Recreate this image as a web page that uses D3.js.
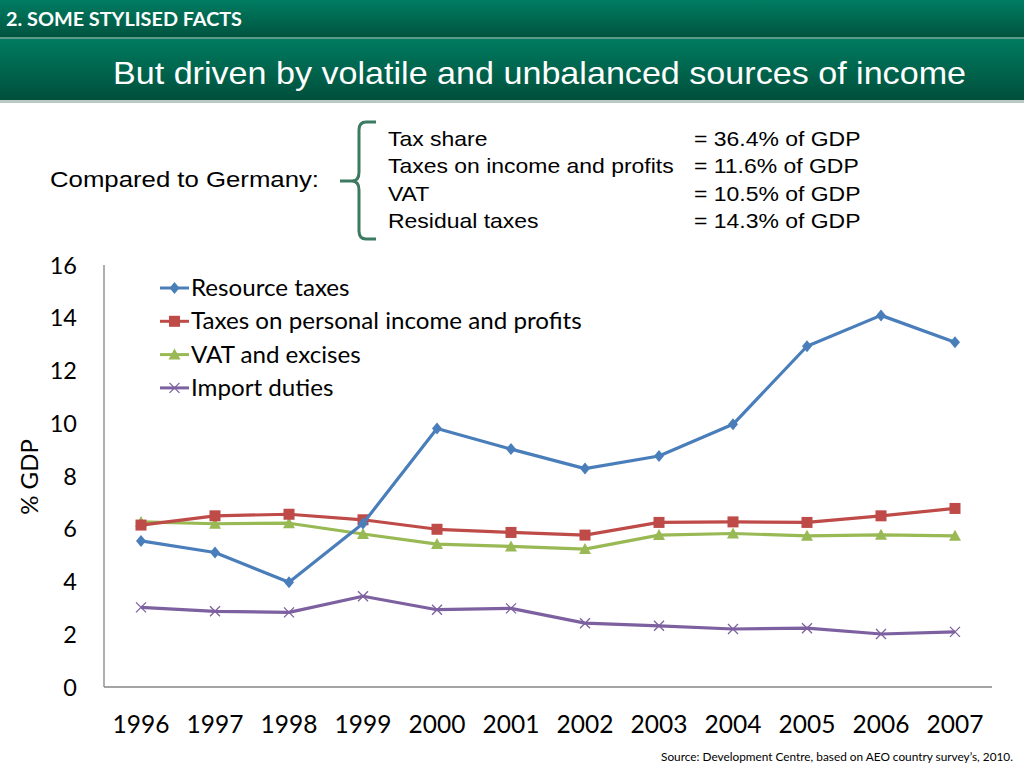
<!DOCTYPE html>
<html>
<head>
<meta charset="utf-8">
<script src="https://cdn.jsdelivr.net/npm/d3@7"></script>
<style>
html,body{margin:0;padding:0;background:#fff;}
svg{display:block;}
</style>
</head>
<body>
<svg id="chart" width="1024" height="768"></svg>
<script>
const years = ["1996","1997","1998","1999","2000","2001","2002","2003","2004","2005","2006","2007"];
const resourceTaxes = [5.54,5.10,3.97,6.20,9.80,9.02,8.28,8.76,9.96,12.92,14.09,13.07];
const personalIncome = [6.14,6.49,6.55,6.34,5.98,5.86,5.76,6.24,6.26,6.24,6.49,6.77];
const vatExcises = [6.26,6.19,6.21,5.80,5.42,5.33,5.23,5.76,5.82,5.73,5.77,5.73];
const importDuties = [3.02,2.87,2.83,3.44,2.93,2.98,2.42,2.32,2.20,2.23,2.01,2.09];
const seriesNames = ["Resource taxes","Taxes on personal income and profits","VAT and excises","Import duties"];
const yTicks = [0,2,4,6,8,10,12,14,16];
const germanyLabels = ["Tax share","Taxes on income and profits","VAT","Residual taxes"];
const germanyValues = ["= 36.4% of GDP","= 11.6% of GDP","= 10.5% of GDP","= 14.3% of GDP"];

(function(){
const svg = d3.select("#chart");
const defs = svg.append("defs");
const g1 = defs.append("linearGradient").attr("id","bar1").attr("x1",0).attr("y1",0).attr("x2",0).attr("y2",1);
g1.append("stop").attr("offset","0%").attr("stop-color","#007d62");
g1.append("stop").attr("offset","100%").attr("stop-color","#00543f");
const g2 = defs.append("linearGradient").attr("id","bar2").attr("x1",0).attr("y1",0).attr("x2",0).attr("y2",1);
g2.append("stop").attr("offset","0%").attr("stop-color","#007b60");
g2.append("stop").attr("offset","100%").attr("stop-color","#004f3b");

const arial = "'Liberation Sans', Arial, sans-serif";
const cal = "Lato, 'Open Sans', sans-serif";
const SX = 1.12; // horizontal stretch of the slide text

function stretched(xp, yp, font, size, txt, fill, weight){
  return svg.append("text").attr("transform",`translate(${xp},${yp}) scale(${SX},1)`)
    .style("font-family",font).style("font-size",size+"px").style("font-weight",weight||"normal")
    .attr("fill",fill||"#000").text(txt);
}

// header
svg.append("rect").attr("x",0).attr("y",0).attr("width",1024).attr("height",37).attr("fill","url(#bar1)");
svg.append("rect").attr("x",0).attr("y",37).attr("width",1024).attr("height",2).attr("fill","#5e9a88");
svg.append("rect").attr("x",0).attr("y",39).attr("width",1024).attr("height",61).attr("fill","url(#bar2)");
svg.append("rect").attr("x",0).attr("y",100).attr("width",1024).attr("height",3).attr("fill","#b9c9c3");
svg.append("text").attr("x",6).attr("y",26).attr("fill","#fff")
  .style("font-family",cal).style("font-weight","bold").style("font-size","19px")
  .attr("textLength",236).attr("lengthAdjust","spacingAndGlyphs")
  .text("2. SOME STYLISED FACTS");
svg.append("text").attr("x",113).attr("y",84).attr("fill","#fff")
  .style("font-family",arial).style("font-size","32px")
  .attr("textLength",853).attr("lengthAdjust","spacingAndGlyphs")
  .text("But driven by volatile and unbalanced sources of income");

// comparison text
stretched(50,187,arial,23,"Compared to Germany:");
svg.append("path")
  .attr("d","M376,122 L366,122 Q359,122 359,130 L359,172 Q359,181 352,181 L340,181 M352,181 Q359,181 359,190 L359,231 Q359,239 366,239 L376,239")
  .attr("fill","none").attr("stroke","#3c7a62").attr("stroke-width",3);
germanyLabels.forEach((t,i)=>{
  stretched(388,146+i*27.3,arial,20.5,t);
  stretched(694,146+i*27.3,arial,20.5,germanyValues[i]);
});

// chart
const pLeft = 104, pRight = 992, pTop = 265, pBottom = 687;
const x = d3.scaleBand().domain(years).range([pLeft,pRight]);
const y = d3.scaleLinear().domain([0,16]).range([pBottom,pTop]);

svg.append("line").attr("x1",pLeft).attr("x2",pLeft).attr("y1",pTop).attr("y2",pBottom).attr("stroke","#868686").attr("stroke-width",1.3);
svg.append("line").attr("x1",pLeft).attr("x2",pRight).attr("y1",pBottom).attr("y2",pBottom).attr("stroke","#868686").attr("stroke-width",1.3);

const yAxis = d3.axisLeft(y).tickValues(yTicks).tickSize(0).tickPadding(0);
const ya = svg.append("g").attr("transform",`translate(${pLeft},0)`).call(yAxis);
ya.select(".domain").remove();
ya.selectAll("text").attr("x",-27).attr("text-anchor","end").style("font-family",cal).style("font-size","23.5px").attr("fill","#000").attr("dy","0.35em");

const xAxis = d3.axisBottom(x).tickSize(0).tickPadding(0);
const xa = svg.append("g").attr("transform",`translate(0,${pBottom})`).call(xAxis);
xa.select(".domain").remove();
xa.selectAll("text").attr("y",37).attr("dy","0.35em").style("font-family",cal).style("font-size","24.5px").attr("fill","#000");

svg.append("text").attr("transform","translate(38,477) rotate(-90)").attr("text-anchor","middle")
  .style("font-family",cal).style("font-size","24px").attr("fill","#000").text("% GDP");

const series = [
  {name:seriesNames[0], values:resourceTaxes, color:"#4a7ebb", marker:"diamond"},
  {name:seriesNames[1], values:personalIncome, color:"#be4b48", marker:"square"},
  {name:seriesNames[2], values:vatExcises, color:"#98b954", marker:"triangle"},
  {name:seriesNames[3], values:importDuties, color:"#7d60a0", marker:"x"}
];
const line = d3.line().x((d,i)=>x(years[i])+x.bandwidth()/2).y(d=>y(d));

function drawMarker(sel, type, color, cx, cy){
  if(type==="diamond"){
    sel.append("path").attr("d",`M${cx},${cy-6} L${cx+5},${cy} L${cx},${cy+6} L${cx-5},${cy} Z`).attr("fill",color);
  } else if(type==="square"){
    sel.append("rect").attr("x",cx-5.5).attr("y",cy-5.5).attr("width",11).attr("height",11).attr("fill",color);
  } else if(type==="triangle"){
    sel.append("path").attr("d",`M${cx},${cy-6} L${cx+6},${cy+5} L${cx-6},${cy+5} Z`).attr("fill",color);
  } else {
    sel.append("path").attr("d",`M${cx-5},${cy-5} L${cx+5},${cy+5} M${cx-5},${cy+5} L${cx+5},${cy-5}`).attr("stroke",color).attr("stroke-width",1.3).attr("fill","none");
  }
}

[...series].reverse().forEach(s=>{
  const g = svg.append("g");
  g.append("path").datum(s.values).attr("d",line).attr("fill","none").attr("stroke",s.color).attr("stroke-width",3.2).attr("stroke-linejoin","round");
  s.values.forEach((v,i)=>drawMarker(g,s.marker,s.color,x(years[i])+x.bandwidth()/2,y(v)));
});

// legend
series.forEach((s,i)=>{
  const ly = 288 + i*33.3;
  const g = svg.append("g");
  g.append("line").attr("x1",160).attr("x2",189).attr("y1",ly).attr("y2",ly).attr("stroke",s.color).attr("stroke-width",3);
  drawMarker(g,s.marker,s.color,174.5,ly);
  g.append("text").attr("transform",`translate(191,${ly}) scale(1.05,1)`).attr("dy","0.35em").style("font-family",cal).style("font-size","23px").attr("fill","#000").text(s.name);
});

svg.append("text").attr("x",661).attr("y",761).style("font-family",cal).style("font-size","12px").attr("fill","#000")
  .attr("textLength",352).attr("lengthAdjust","spacingAndGlyphs")
  .text("Source: Development Centre, based on AEO country survey’s, 2010.");
})();
</script>
</body>
</html>
